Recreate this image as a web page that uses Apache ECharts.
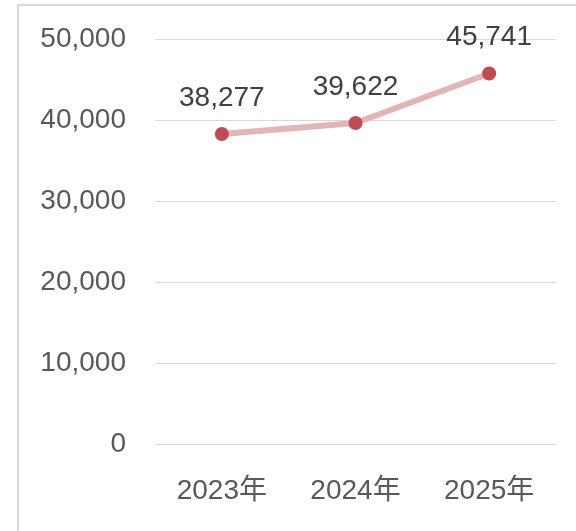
<!DOCTYPE html>
<html><head><meta charset="utf-8">
<script src="https://cdn.jsdelivr.net/npm/echarts@6/dist/echarts.min.js"></script>
<style>html,body{margin:0;padding:0;background:#fff}#c{width:576px;height:531px}</style>
</head><body><div id="c"></div>
<script>
const categories = ['2023年', '2024年', '2025年'];
const values = [38277, 39622, 45741];
const yTicks = [0, 10000, 20000, 30000, 40000, 50000];

const chart = echarts.init(document.getElementById('c'), null, {renderer: 'canvas'});
const fmt = v => Number(v).toLocaleString('en-US');
chart.setOption({
  animation: false,
  backgroundColor: '#fff',
  graphic: [{
    type: 'rect', shape: {x: 18, y: 5, width: 700, height: 700},
    style: {fill: 'none', stroke: '#d9d9d9', lineWidth: 2}, silent: true
  }],
  grid: {left: 155, right: 20, top: 39, bottom: 87, containLabel: false},
  xAxis: {
    type: 'category', data: categories, boundaryGap: true,
    axisLine: {show: true, lineStyle: {color: '#d9d9d9', width: 1}},
    axisTick: {show: false},
    axisLabel: {color: '#595959', fontSize: 28, fontFamily: 'Liberation Sans, Arial, Noto Sans CJK SC, sans-serif', margin: 33}
  },
  yAxis: {
    type: 'value', min: yTicks[0], max: yTicks[yTicks.length - 1], interval: 10000,
    axisLine: {show: false}, axisTick: {show: false},
    splitLine: {lineStyle: {color: '#d9d9d9', width: 1}},
    axisLabel: {color: '#595959', fontSize: 28, fontFamily: 'Liberation Sans, Arial, sans-serif', margin: 29, formatter: fmt}
  },
  series: [{
    type: 'line', data: values,
    lineStyle: {color: '#e2b5b7', width: 6},
    itemStyle: {color: '#be4b55'},
    symbol: 'circle', symbolSize: 14, showAllSymbol: true,
    label: {show: true, position: 'top', distance: 15, color: '#404040', fontSize: 28,
      fontFamily: 'Liberation Sans, Arial, sans-serif', formatter: p => fmt(p.value)}
  }]
});
</script></body></html>
